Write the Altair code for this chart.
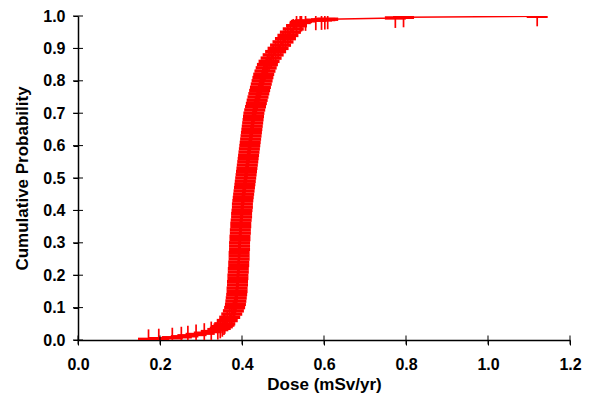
import altair as alt
import pandas as pd

dose = [0.172, 0.197, 0.230, 0.252, 0.268, 0.288, 0.308, 0.325, 0.341, 0.347,
        0.352, 0.356,
        0.358, 0.364, 0.370, 0.375, 0.379, 0.382, 0.384, 0.385, 0.386, 0.387,
        0.388, 0.388, 0.389, 0.389, 0.390, 0.390, 0.391, 0.391, 0.392, 0.392,
        0.393, 0.393, 0.393, 0.394, 0.394, 0.394, 0.395, 0.395, 0.396, 0.396,
        0.397, 0.397, 0.398, 0.399, 0.399, 0.400, 0.401, 0.401, 0.402, 0.403,
        0.404, 0.405, 0.406, 0.407, 0.408, 0.409, 0.410, 0.411, 0.412, 0.413,
        0.414, 0.415, 0.416, 0.417, 0.418, 0.419, 0.420, 0.421, 0.422, 0.423,
        0.424, 0.425, 0.426, 0.427, 0.428, 0.429, 0.431, 0.433, 0.435, 0.437,
        0.439, 0.441, 0.443, 0.445, 0.447, 0.449, 0.451, 0.453, 0.456, 0.459,
        0.462, 0.466, 0.471, 0.476, 0.482, 0.488, 0.494, 0.500, 0.506, 0.512,
        0.518, 0.525, 0.533, 0.542,
        0.545, 0.555, 0.580, 0.594, 0.602, 0.609, 0.774, 0.794, 1.120]
prob = [0.002, 0.004, 0.007, 0.010, 0.013, 0.017, 0.021, 0.026, 0.032, 0.036,
        0.041, 0.046,
        0.05, 0.06, 0.07, 0.08, 0.09, 0.10, 0.11, 0.12, 0.13, 0.14,
        0.15, 0.16, 0.17, 0.18, 0.19, 0.20, 0.21, 0.22, 0.23, 0.24,
        0.25, 0.26, 0.27, 0.28, 0.29, 0.30, 0.31, 0.32, 0.33, 0.34,
        0.35, 0.36, 0.37, 0.38, 0.39, 0.40, 0.41, 0.42, 0.43, 0.44,
        0.45, 0.46, 0.47, 0.48, 0.49, 0.50, 0.51, 0.52, 0.53, 0.54,
        0.55, 0.56, 0.57, 0.58, 0.59, 0.60, 0.61, 0.62, 0.63, 0.64,
        0.65, 0.66, 0.67, 0.68, 0.69, 0.70, 0.71, 0.72, 0.73, 0.74,
        0.75, 0.76, 0.77, 0.78, 0.79, 0.80, 0.81, 0.82, 0.83, 0.84,
        0.85, 0.86, 0.87, 0.88, 0.89, 0.90, 0.91, 0.92, 0.93, 0.94,
        0.95, 0.96, 0.97, 0.98,
        0.983, 0.985, 0.987, 0.988, 0.989, 0.990, 0.994, 0.996, 0.999]

x_ticks = [0.0, 0.2, 0.4, 0.6, 0.8, 1.0, 1.2]
y_ticks = [0.0, 0.1, 0.2, 0.3, 0.4, 0.5, 0.6, 0.7, 0.8, 0.9, 1.0]

df = pd.DataFrame({"dose": dose, "prob": prob})
dfx = pd.DataFrame({"dose": x_ticks})
dfy = pd.DataFrame({"prob": y_ticks})

RED = "#FF0000"
FONT = "Liberation Sans"

xscale = alt.Scale(domain=[0, 1.2], nice=False, zero=False)
yscale = alt.Scale(domain=[0, 1.0], nice=False, zero=False)

xaxis = alt.Axis(values=x_ticks, format=".1f", title="Dose (mSv/yr)",
                 titleX=246, titleY=44, titleBaseline="middle",
                 labelPadding=11, labelFlush=False, labelOverlap=False)
yaxis = alt.Axis(values=y_ticks, format=".1f", title="Cumulative Probability",
                 titleX=-56, titleY=162, titleBaseline="middle", titleAngle=-90,
                 labelPadding=8, labelFlush=False, labelOverlap=False)

X = alt.X("dose:Q", scale=xscale, axis=xaxis)
Y = alt.Y("prob:Q", scale=yscale, axis=yaxis)

line = alt.Chart(df).mark_line(color=RED, strokeWidth=1.5, clip=True).encode(x=X, y=Y)
vticks = alt.Chart(df).mark_tick(color=RED, orient="vertical", size=20,
                                 thickness=1.7, clip=True, opacity=1).encode(x=X, y=Y)
hticks = alt.Chart(df).mark_tick(color=RED, orient="horizontal", size=21,
                                 thickness=3.4, clip=True, opacity=1).encode(x=X, y=Y)

# inward halves of the axis ticks (axis ticks cross the axis line)
ytk = alt.Chart(dfy).mark_tick(color="black", orient="horizontal", size=10,
                               thickness=1, opacity=1).encode(
    y=Y, x=alt.XDatum(0.0, scale=xscale, axis=xaxis, type="quantitative"))
xtk = alt.Chart(dfx).mark_tick(color="black", orient="vertical", size=9,
                               thickness=1, opacity=1).encode(
    x=X, y=alt.YDatum(0.0, scale=yscale, axis=yaxis, type="quantitative"))

chart = alt.layer(line, vticks, hticks, ytk, xtk).properties(
    width=492, height=324,
    autosize=alt.AutoSizeParams(type="none"),
    padding={"left": 70, "top": 8, "right": 12, "bottom": 53},
).configure_view(strokeWidth=0).configure_axis(
    grid=False,
    domainColor="black", domainWidth=1.5,
    tickColor="black", tickSize=5, tickWidth=1,
    labelFont=FONT, labelFontSize=16, labelFontWeight="bold", labelColor="black",
    titleFont=FONT, titleFontSize=17, titleFontWeight="bold", titleColor="black",
)

chart.save("out.html", embed_options={"renderer": "svg", "actions": False})
